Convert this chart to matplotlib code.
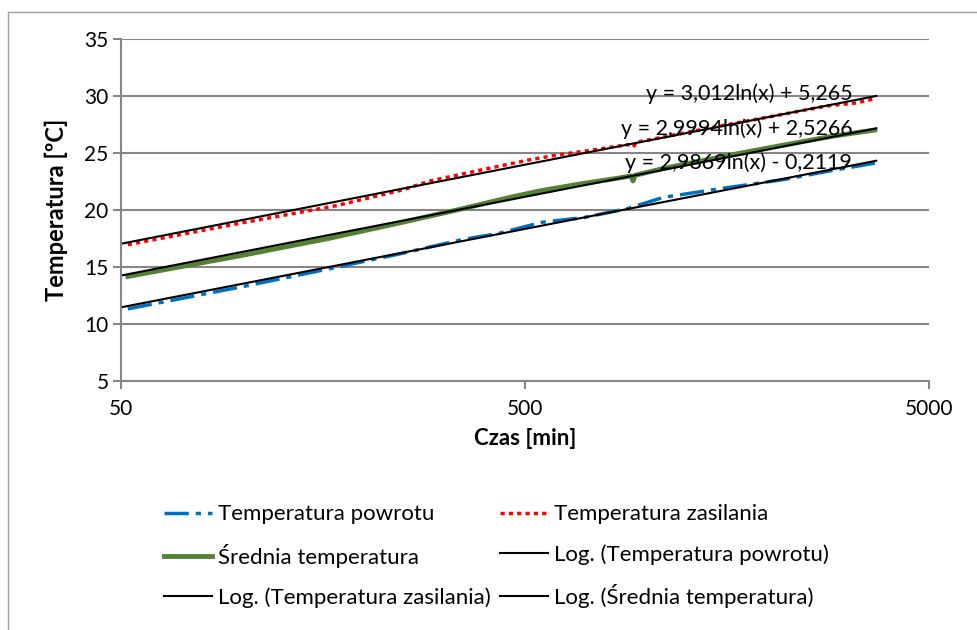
import numpy as np
import matplotlib
matplotlib.use('Agg')
import matplotlib.pyplot as plt
from matplotlib.lines import Line2D

plt.rcParams['font.family'] = ['Lato', 'DejaVu Sans']

# czas [min] i temperatury
t_powrot = [52, 100, 165, 250, 350, 430, 550, 700, 900, 1100, 1300, 1500, 1800, 2200, 2800, 3670]
T_powrot = [11.34, 13.29, 14.88, 16.23, 17.42, 17.95, 18.93, 19.35, 20.15, 21.12, 21.51, 21.85, 22.25, 22.70, 23.40, 24.12]

t_zasil = [52, 100, 170, 250, 290, 400, 510, 600, 750, 900, 928, 940, 1000, 1500, 2000, 2800, 3300, 3670]
T_zasil = [16.97, 18.89, 20.38, 21.79, 22.54, 23.61, 24.39, 24.83, 25.31, 25.75, 25.52, 25.95, 26.12, 27.34, 28.16, 29.14, 29.40, 29.77]

t_sred = [52, 100, 165, 250, 350, 450, 550, 700, 850, 915, 925, 935, 1100, 1400, 1800, 2300, 2900, 3670]
T_sred = [14.18, 16.04, 17.55, 18.95, 20.12, 21.05, 21.72, 22.35, 22.80, 23.00, 22.55, 23.05, 23.65, 24.40, 25.15, 25.85, 26.50, 27.02]

# linie trendu logarytmicznego: y = a*ln(x) + b (z etykiet wykresu)
trend_a = [2.9869, 3.012, 2.9994]
trend_b = [-0.2119, 5.265, 2.5266]
trend_labels = ['y = 2,9869ln(x) - 0,2119', 'y = 3,012ln(x) + 5,265', 'y = 2,9994ln(x) + 2,5266']
trend_range = [50, 3700]

fig = plt.figure(figsize=(9.77, 6.30), dpi=100)
ax = fig.add_axes([0.1238, 0.395, 0.951 - 0.1238, 0.938 - 0.395])

grid_col = '#868686'
ax.set_xscale('log')
ax.set_xlim(50, 5000)
ax.set_ylim(5, 35)
ax.set_yticks(range(5, 36, 5))
ax.set_xticks([50, 500, 5000])
ax.set_xticklabels(['50', '500', '5000'])
ax.xaxis.set_minor_locator(matplotlib.ticker.NullLocator())
ax.grid(axis='y', color=grid_col, linewidth=1.5)
ax.set_axisbelow(True)
for s in ['top', 'right']:
    ax.spines[s].set_visible(False)
for s in ['left', 'bottom']:
    ax.spines[s].set_color(grid_col)
    ax.spines[s].set_linewidth(1.5)
ax.tick_params(axis='both', colors=grid_col, labelcolor='black', labelsize=15, length=6, width=1.5)
ax.tick_params(axis='x', pad=7)
ax.tick_params(axis='y', pad=3)

l_pow, = ax.plot(t_powrot, T_powrot, color='#0070C0', lw=2.5, dashes=[7, 2, 1.5, 2])
l_zas, = ax.plot(t_zasil, T_zasil, color='#FF0000', lw=2.5, linestyle=(0, (1.2, 1.2)))
l_sre, = ax.plot(t_sred, T_sred, color='#548235', lw=3.5)

xt = np.geomspace(trend_range[0], trend_range[1], 50)
trend_lines = []
for a, b in zip(trend_a, trend_b):
    ln_, = ax.plot(xt, a * np.log(xt) + b, color='black', lw=1.5)
    trend_lines.append(ln_)

# etykiety rownan
label_y = [24.2, 30.2, 27.1]
for lab, yy in zip(trend_labels, label_y):
    ax.text(3225, yy, lab, ha='right', va='center', fontsize=15.5)

ax.set_ylabel('Temperatura [ºC]', fontsize=17, fontweight='bold', labelpad=12)
ax.set_xlabel('Czas [min]', fontsize=16, fontweight='bold', labelpad=6)

handles = [l_pow, l_sre, trend_lines[1], l_zas, trend_lines[0], trend_lines[2]]
labels = ['Temperatura powrotu', 'Średnia temperatura', 'Log. (Temperatura zasilania)',
          'Temperatura zasilania', 'Log. (Temperatura powrotu)', 'Log. (Średnia temperatura)']
fig.legend(handles, labels, ncol=2, loc='center', bbox_to_anchor=(0.508, 0.117),
           frameon=False, fontsize=16, handlelength=2.15, handletextpad=0.27,
           columnspacing=0.45, labelspacing=0.88)

# ramka wykresu (lewa i gorna krawedz)
fig.add_artist(Line2D([8 / 977, 8 / 977], [0, 1 - 12 / 630], color='#A0A0A0', lw=1, transform=fig.transFigure))
fig.add_artist(Line2D([8 / 977, 1], [1 - 12 / 630, 1 - 12 / 630], color='#A0A0A0', lw=1, transform=fig.transFigure))

fig.savefig('out.png', dpi=100)
